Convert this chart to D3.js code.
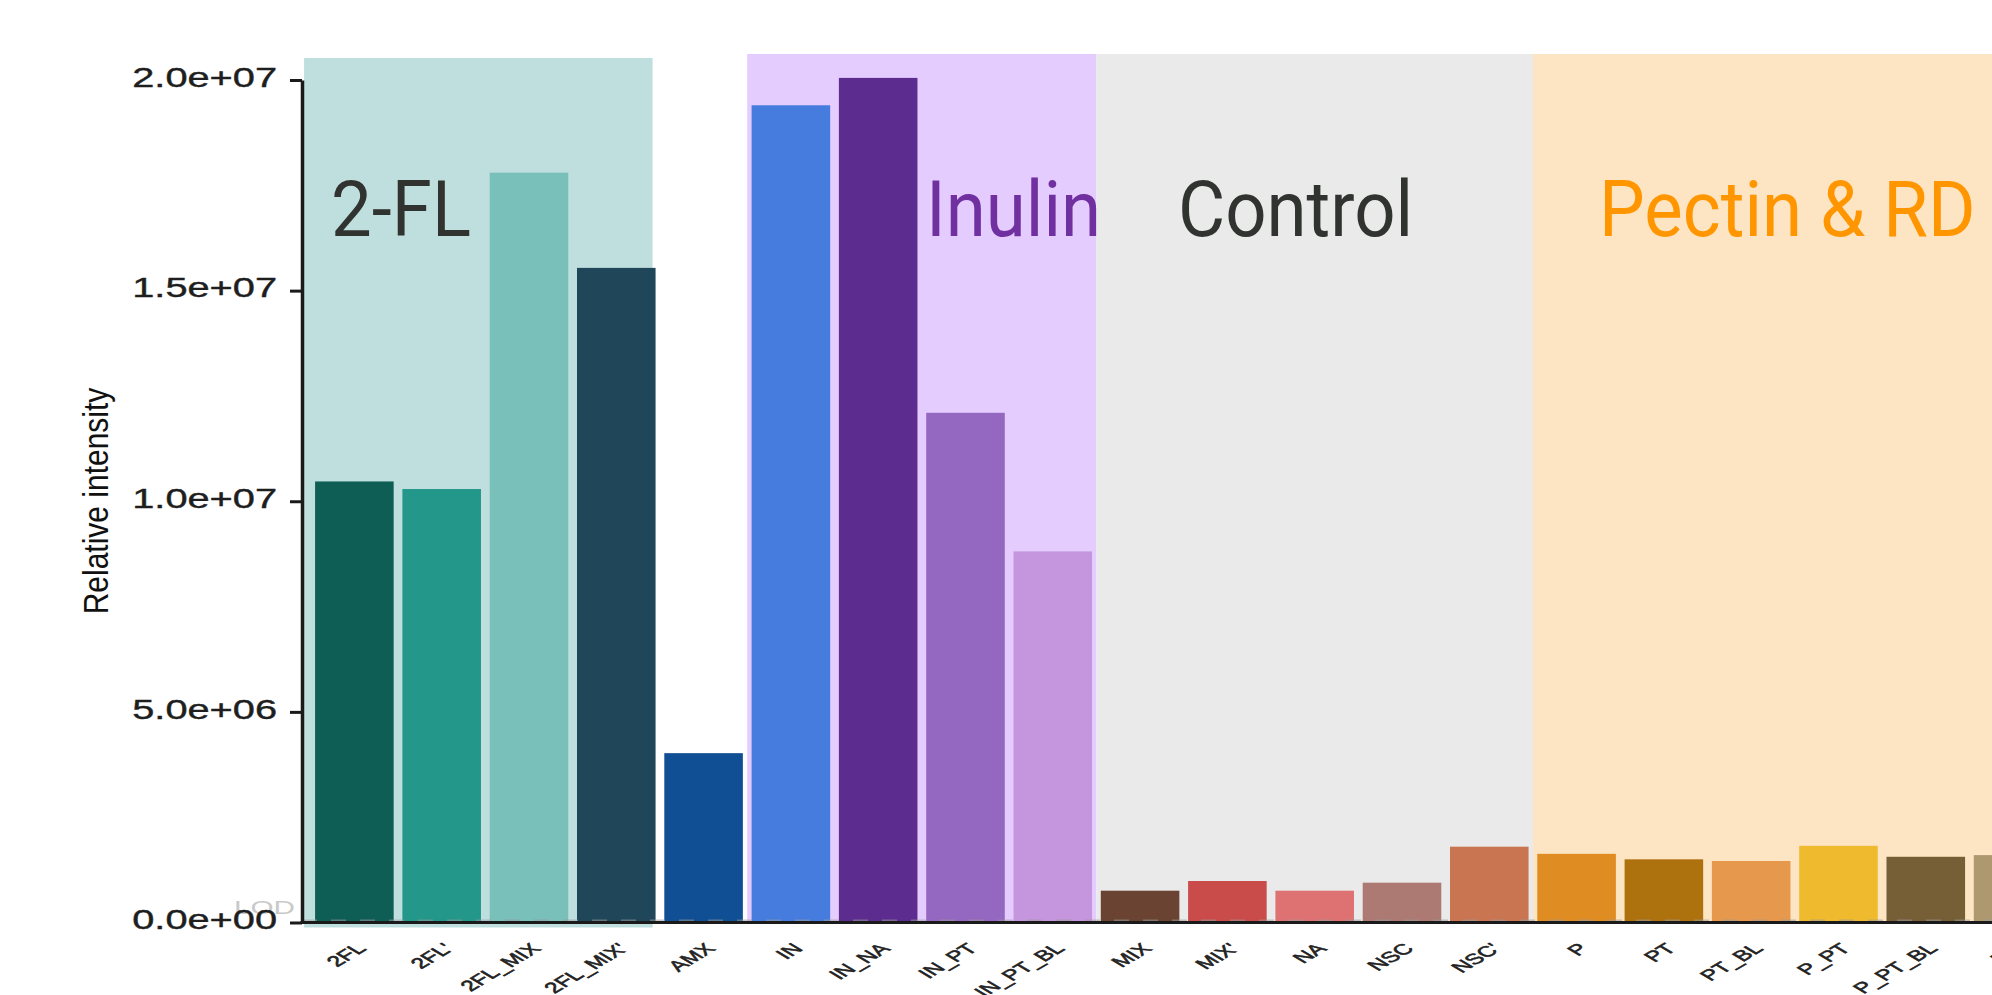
<!DOCTYPE html>
<html>
<head>
<meta charset="utf-8">
<script src="https://cdn.jsdelivr.net/npm/d3@7"></script>
<style>
  html, body { margin: 0; padding: 0; background: #fff; }
  svg { display: block; }
</style>
</head>
<body>
<svg id="chart"></svg>
<script>
// samples
const categories = ["2FL", "2FL'", "2FL_MIX", "2FL_MIX'", "AMX", "IN", "IN_NA", "IN_PT", "IN_PT_BL",
    "MIX", "MIX'", "NA", "NSC", "NSC'", "P", "PT", "PT_BL", "P_PT", "P_PT_BL", "RD"];
const values = [1.047e7, 1.029e7, 1.78e7, 1.554e7, 4.02e6, 1.94e7, 2.005e7, 1.21e7, 8.81e6,
    7.55e5, 9.85e5, 7.55e5, 9.45e5, 1.8e6, 1.63e6, 1.5e6, 1.46e6, 1.82e6, 1.56e6, 1.6e6];
const barColors = ["#0e5e55", "#23978a", "#79bfba", "#20465a", "#114f94", "#467cdd", "#5c2d8f", "#9467c1", "#c596dd",
    "#6a4332", "#c94c4a", "#de7272", "#ac7a73", "#c97552", "#df8c22", "#ad710e", "#e6994d", "#efba2e", "#765e36", "#ae9870"];

// groups shaded behind the bars
const groupNames = ["2-FL", "Inulin", "Control", "Pectin & RD"];
const groupFirst = ["2FL", "IN", "MIX", "P"];
const groupLast = ["2FL_MIX'", "IN_PT_BL", "NSC'", "RD"];
const groupFill = ["#bfdfdf", "#e5ccff", "#eaeaea", "#fde4c2"];
const groupTextColor = ["#313330", "#7030a0", "#313330", "#ff9600"];

const yTicks = [0, 5e6, 1e7, 1.5e7, 2e7];
const lod = 5e4;

const W = 1992, H = 995;
const axisX = 302, step = 87.3;

const svg = d3.select("#chart").attr("width", W).attr("height", H);

let x = d3.scaleBand()
    .domain(categories)
    .range([axisX, axisX + step * (categories.length + 0.2)])
    .paddingInner(0.1)
    .paddingOuter(0.15);

let y = d3.scaleLinear()
    .domain([0, 2e7])
    .range([922.5, 80]);

const gap = x.step() * 0.05;

/* background group rectangles */
groupNames.forEach(function (g, i) {
    let left = x(groupFirst[i]) - gap;
    let right = x(groupLast[i]) + x.bandwidth() + gap;
    let top = 54, bottom = y(0);
    if (i == 0) { left = x(groupFirst[i]) - 11; right = x(groupLast[i]) + x.bandwidth() - 3; top = 58; bottom = y(0) + 5; }
    if (i == groupNames.length - 1) right = W + 10;
    svg.append("rect")
        .attr("x", left)
        .attr("y", top)
        .attr("width", right - left)
        .attr("height", bottom - top)
        .attr("fill", groupFill[i]);
});

/* bars */
svg.selectAll("rect.bar")
    .data(categories)
    .enter()
    .append("rect")
    .attr("class", "bar")
    .attr("x", function (d) { return x(d); })
    .attr("width", x.bandwidth())
    .attr("y", function (d, i) { return y(values[i]); })
    .attr("height", function (d, i) { return y(0) - y(values[i]); })
    .attr("fill", function (d, i) { return barColors[i]; });

/* LOD dashed line */
svg.append("line")
    .attr("x1", axisX)
    .attr("x2", W)
    .attr("y1", y(lod))
    .attr("y2", y(lod))
    .attr("stroke", "#9a9a9a")
    .attr("stroke-opacity", 0.55)
    .attr("stroke-width", 2)
    .attr("stroke-dasharray", "15,14");

svg.append("text")
    .attr("transform", "translate(" + (axisX - 7) + "," + (y(lod) - 6) + ") scale(1.65,1)")
    .attr("text-anchor", "end")
    .attr("font-family", "'Liberation Sans', Arial, sans-serif")
    .attr("font-size", 18)
    .attr("fill", "#c9c9c9")
    .text("LOD");

/* y axis, ggplot style scientific labels */
function sci(v) {
    let parts = v.toExponential(1).split("e");
    let e = parseInt(parts[1], 10);
    return parts[0] + "e" + (e < 0 ? "-" : "+") + String(Math.abs(e)).padStart(2, "0");
}

let yAxis = svg.append("g")
    .attr("transform", "translate(" + axisX + ",0)")
    .call(d3.axisLeft(y).tickValues(yTicks).tickFormat(sci).tickSize(12).tickSizeOuter(0).tickPadding(13));

yAxis.select(".domain").attr("stroke", "#1a1a1a").attr("stroke-width", 3.5);
yAxis.selectAll(".tick line").attr("stroke", "#1a1a1a").attr("stroke-width", 3);
yAxis.selectAll(".tick text")
    .attr("font-family", "'Liberation Sans', Arial, sans-serif")
    .attr("font-size", 28)
    .attr("fill", "#1e1e1e")
    .attr("stroke", "#1e1e1e")
    .attr("stroke-width", 0.4)
    .attr("x", -25 / 1.42)
    .attr("dy", "0.22em")
    .attr("transform", "scale(1.42,1)");

/* x axis with slanted labels */
let xAxis = svg.append("g")
    .attr("transform", "translate(0," + y(0) + ")")
    .call(d3.axisBottom(x).tickSize(0).tickSizeOuter(0));

xAxis.select(".domain").remove();
xAxis.append("line")
    .attr("x1", axisX - 1.5)
    .attr("x2", W)
    .attr("stroke", "#1a1a1a")
    .attr("stroke-width", 3);
xAxis.selectAll(".tick text")
    .attr("y", null)
    .attr("dy", null)
    .attr("text-anchor", "end")
    .attr("font-family", "'Liberation Sans', Arial, sans-serif")
    .attr("font-size", 14.8)
    .attr("fill", "#222")
    .attr("stroke", "#222")
    .attr("stroke-width", 0.5)
    .attr("transform", "translate(13,27) scale(1.68,1) rotate(-45)");

/* y title */
svg.append("text")
    .attr("transform", "translate(108,501) scale(1.15,1) rotate(-90)")
    .attr("text-anchor", "middle")
    .attr("font-family", "'Liberation Sans', Arial, sans-serif")
    .attr("font-size", 30)
    .attr("fill", "#111")
    .text("Relative intensity");

/* group labels */
const labelLeft = [331, 926, 1178, 1599];
groupNames.forEach(function (g, i) {
    svg.append("text")
        .attr("transform", "translate(" + labelLeft[i] + ",236) scale(0.93,1)")
        .attr("font-family", "Roboto, sans-serif")
        .attr("font-size", 78)
        .attr("fill", groupTextColor[i])
        .text(g);
});
</script>
</body>
</html>
